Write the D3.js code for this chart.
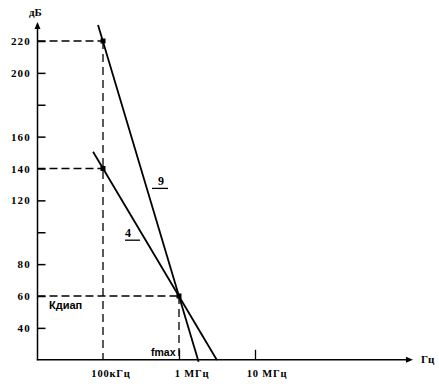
<!DOCTYPE html>
<html><head><meta charset="utf-8">
<script src="https://cdn.jsdelivr.net/npm/d3@7"></script>
<style>body{margin:0;background:#fff}svg{display:block}</style>
</head><body>
<script>
// Data
const yTickValues = [40, 60, 80, 100, 120, 140, 160, 180, 200, 220];
const yTickLabels = ["40", "60", "80", "", "120", "140", "160", "", "200", "220"];
const xTickValues = [1e5, 1e6, 1e7];
const xTickLabels = ["100кГц", "1 МГц", "10 МГц"];
const line9 = [[8.6e4, 230], [1.81e6, 18.7]];
const line4 = [[7.4e4, 150.5], [3.15e6, 19.8]];
const markers = [[1e5, 220], [1e5, 140], [1e6, 60]];
const lineLabels = [{t: "9", f: 5.29e5, v: 129.4, u0: -6, u1: 10}, {t: "4", f: 1.95e5, v: 96.9, u0: 0, u1: 15}];

const W = 439, H = 389;
const svg = d3.select("body").append("svg").attr("width", W).attr("height", H);
const x = d3.scaleLog().domain([1e5, 1e6]).range([103, 179]);
const y = d3.scaleLinear().domain([60, 220]).range([296, 41]);
const x0 = 37.5, yAxisBottom = y(20), yTop = 22;
const xEnd = 413;
const serif = "'Liberation Serif', 'Times New Roman', serif";
const sans = "'Liberation Sans', Arial, sans-serif";

// dashed guides
const dash = svg.append("g").attr("stroke", "#000").attr("stroke-width", 1.3).attr("stroke-dasharray", "8,4").attr("fill", "none");
dash.append("line").attr("x1", x0).attr("x2", x(1e5)).attr("y1", y(220)).attr("y2", y(220));
dash.append("line").attr("x1", x0).attr("x2", x(1e5)).attr("y1", y(140)).attr("y2", y(140));
dash.append("line").attr("x1", x0).attr("x2", x(1e6)).attr("y1", y(60)).attr("y2", y(60));
dash.append("line").attr("x1", x(1e5)).attr("x2", x(1e5)).attr("y1", y(220)).attr("y2", yAxisBottom).attr("stroke-dasharray", "8,5");
dash.append("line").attr("x1", x(1e6)).attr("x2", x(1e6)).attr("y1", y(60)).attr("y2", yAxisBottom).attr("stroke-dasharray", "8,5");

// Y axis ticks (right side, no labels)
const yAx = d3.axisRight(y).tickValues(yTickValues).tickSize(8).tickFormat("");
const gy = svg.append("g").attr("transform", `translate(${x0},0)`).call(yAx);
gy.select(".domain").remove();
gy.selectAll(".tick line").attr("stroke", "#000").attr("stroke-width", 1.5);
svg.append("g").selectAll("text").data(yTickValues).join("text")
  .attr("x", 31).attr("y", d => y(d) + 4).attr("text-anchor", "end")
  .attr("font-family", serif).attr("font-weight", "bold").attr("font-size", 11).attr("letter-spacing", 1.2)
  .text((d, i) => yTickLabels[i]);

// X axis ticks
const xAx = d3.axisTop(x).tickValues(xTickValues.slice(1)).tickSize(10).tickFormat("");
const gx = svg.append("g").attr("transform", `translate(0,${yAxisBottom})`).call(xAx);
gx.select(".domain").remove();
gx.selectAll(".tick line").attr("stroke", "#000").attr("stroke-width", 1.3);
const xOff = [8, 13, 12];
svg.append("g").selectAll("text").data(xTickValues).join("text")
  .attr("x", (d, i) => x(d) + xOff[i]).attr("y", 377).attr("text-anchor", "middle")
  .attr("font-family", serif).attr("font-weight", "bold").attr("font-size", 10.5).attr("letter-spacing", 0.8)
  .text((d, i) => xTickLabels[i]);

// axes lines
svg.append("line").attr("x1", x0).attr("x2", x0).attr("y1", yAxisBottom + 0.5).attr("y2", yTop + 4).attr("stroke", "#000").attr("stroke-width", 1.5);
svg.append("line").attr("x1", x0 - 0.7).attr("x2", xEnd - 4).attr("y1", yAxisBottom).attr("y2", yAxisBottom).attr("stroke", "#000").attr("stroke-width", 1.5);
svg.append("path").attr("d", `M${x0},${yTop} L${x0 - 3},${yTop + 7} L${x0 + 3},${yTop + 7} Z`).attr("fill", "#000");
svg.append("path").attr("d", `M${xEnd},${yAxisBottom} L${xEnd - 7},${yAxisBottom - 3} L${xEnd - 7},${yAxisBottom + 3} Z`).attr("fill", "#000");
svg.append("text").attr("x", 29).attr("y", 16).attr("font-family", serif).attr("font-weight", "bold").attr("font-size", 11).text("дБ");
svg.append("text").attr("x", 421).attr("y", 363).attr("font-family", serif).attr("font-weight", "bold").attr("font-size", 11).text("Гц");

// curves
const lineGen = d3.line().x(d => x(d[0])).y(d => y(d[1]));
[line9, line4].forEach(l => svg.append("path").attr("d", lineGen(l)).attr("stroke", "#000").attr("stroke-width", 1.8).attr("fill", "none"));

// markers
svg.append("g").selectAll("rect").data(markers).join("rect")
  .attr("x", d => x(d[0]) - 2.5).attr("y", d => y(d[1]) - 2.5).attr("width", 5).attr("height", 5).attr("fill", "#000");

// line labels with underline
lineLabels.forEach(l => {
  const px = x(l.f), py = y(l.v);
  svg.append("text").attr("x", px).attr("y", py).attr("font-family", serif).attr("font-weight", "bold").attr("font-size", 12).text(l.t);
  svg.append("line").attr("x1", px + l.u0).attr("x2", px + l.u1).attr("y1", py + 3).attr("y2", py + 3).attr("stroke", "#000").attr("stroke-width", 1.3);
});

svg.append("text").attr("x", 49).attr("y", 309).attr("font-family", sans).attr("font-weight", "bold").attr("font-size", 11).text("Кдиап");
svg.append("text").attr("x", 151).attr("y", 356).attr("font-family", sans).attr("font-weight", "bold").attr("font-size", 10.5).text("fmax");
</script>
</body></html>
